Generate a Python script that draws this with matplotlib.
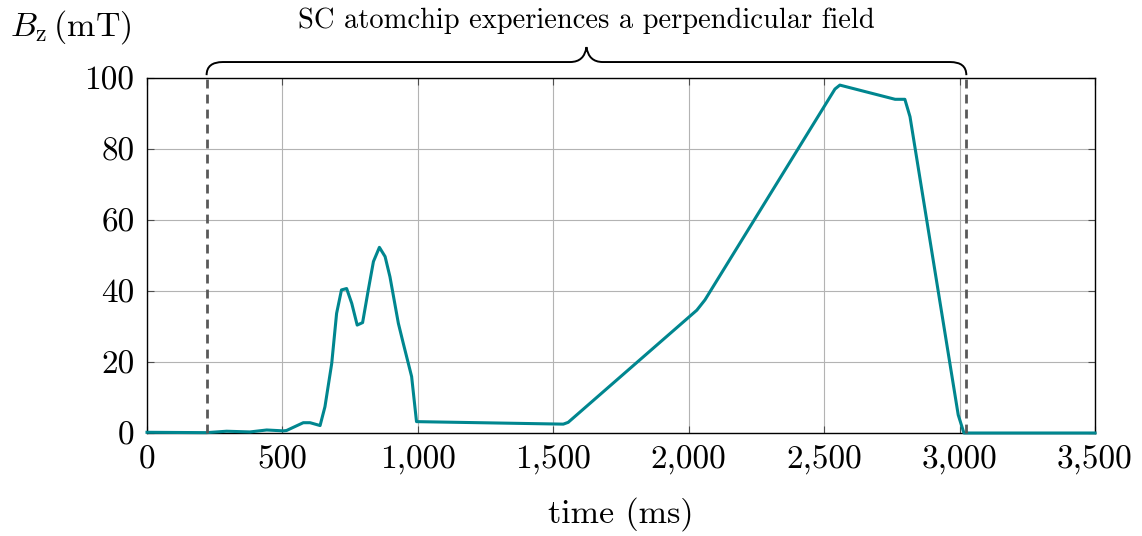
import matplotlib
matplotlib.use("Agg")
import matplotlib.pyplot as plt
from matplotlib.ticker import FuncFormatter
from matplotlib.path import Path
from matplotlib.patches import PathPatch

plt.rcParams['font.family'] = 'serif'
plt.rcParams['font.serif'] = ['cmr10']
plt.rcParams['mathtext.fontset'] = 'cm'
plt.rcParams['axes.unicode_minus'] = False

# data
time_ms = [0, 220, 294, 380, 442, 503, 515, 577, 602, 639, 657, 682, 700, 718, 737,
           756, 776, 796, 817, 836, 858, 879, 897, 928, 946, 977, 995, 1537, 1555,
           2030, 2060, 2540, 2558, 2762, 2798, 2817, 2835, 2995, 3016, 3500]
bz_mT = [0.2, 0.1, 0.5, 0.3, 0.85, 0.6, 0.7, 2.9, 2.9, 2.1, 7.4, 19.6, 33.7, 40.3, 40.7,
         36.5, 30.4, 31.1, 40.3, 48.3, 52.3, 49.7, 44.0, 30.9, 25.3, 15.9, 3.2, 2.5, 3.0,
         34.6, 37.5, 96.9, 98.0, 94.0, 94.0, 89.1, 80.6, 5.1, 0.0, 0.0]
marker_times = [220, 3025]
x_ticks = [0, 500, 1000, 1500, 2000, 2500, 3000, 3500]
y_ticks = [0, 20, 40, 60, 80, 100]
annotation = "SC atomchip experiences a perpendicular field"

fig = plt.figure(figsize=(11.42, 5.36), dpi=100)
ax = fig.add_axes([147/1142, 1-433/536, (1095-147)/1142, (433-78)/536])

ax.plot(time_ms, bz_mT, color='#00868f', lw=2.2, zorder=3, clip_on=False)
for t in marker_times:
    ax.plot([t, t], [0, 100], color='#595959', lw=2.0, ls=(0, (3.2, 2.2)), zorder=4, clip_on=False)

ax.set_xlim(0, 3500)
ax.set_ylim(0, 100)
ax.set_xticks(x_ticks)
ax.set_yticks(y_ticks)
ax.xaxis.set_major_formatter(FuncFormatter(lambda v, p: f"{v:,.0f}"))
ax.yaxis.set_major_formatter(FuncFormatter(lambda v, p: f"{v:.0f}"))
ax.grid(True, color='#b3b3b3', lw=0.8)
ax.set_axisbelow(True)
ax.tick_params(direction='in', length=5, width=0.8, color='#4d4d4d', labelsize=24,
               top=True, right=True, pad=9)
for s in ax.spines.values():
    s.set_linewidth(1.0)
    s.set_color('black')

ax.set_xlabel("time (ms)", fontsize=24.5, labelpad=16)
fig.text(10/1142, 1-27/536, r"$B_\mathrm{z}\,(\mathrm{mT})$", fontsize=24.5, va='center', ha='left')

# brace
x0, x1 = marker_times
xm = (x0 + x1) / 2
yb, yl, yt = 100.8, 104.5, 108.7
r = 60
verts = [(x0, yb), (x0, yl), (x0 + r, yl),
         (xm - r, yl),
         (xm - 8, yl), (xm, yt),
         (xm + 8, yl), (xm + r, yl),
         (x1 - r, yl),
         (x1, yl), (x1, yb)]
codes = [Path.MOVETO, Path.CURVE3, Path.CURVE3,
         Path.LINETO,
         Path.CURVE3, Path.CURVE3,
         Path.CURVE3, Path.CURVE3,
         Path.LINETO,
         Path.CURVE3, Path.CURVE3]
ax.add_patch(PathPatch(Path(verts, codes), fill=False, lw=1.4, color='black', clip_on=False))
ax.text(xm, 112.5, annotation, ha='center', va='bottom', fontsize=20.5)

fig.savefig("out.png", dpi=100)
